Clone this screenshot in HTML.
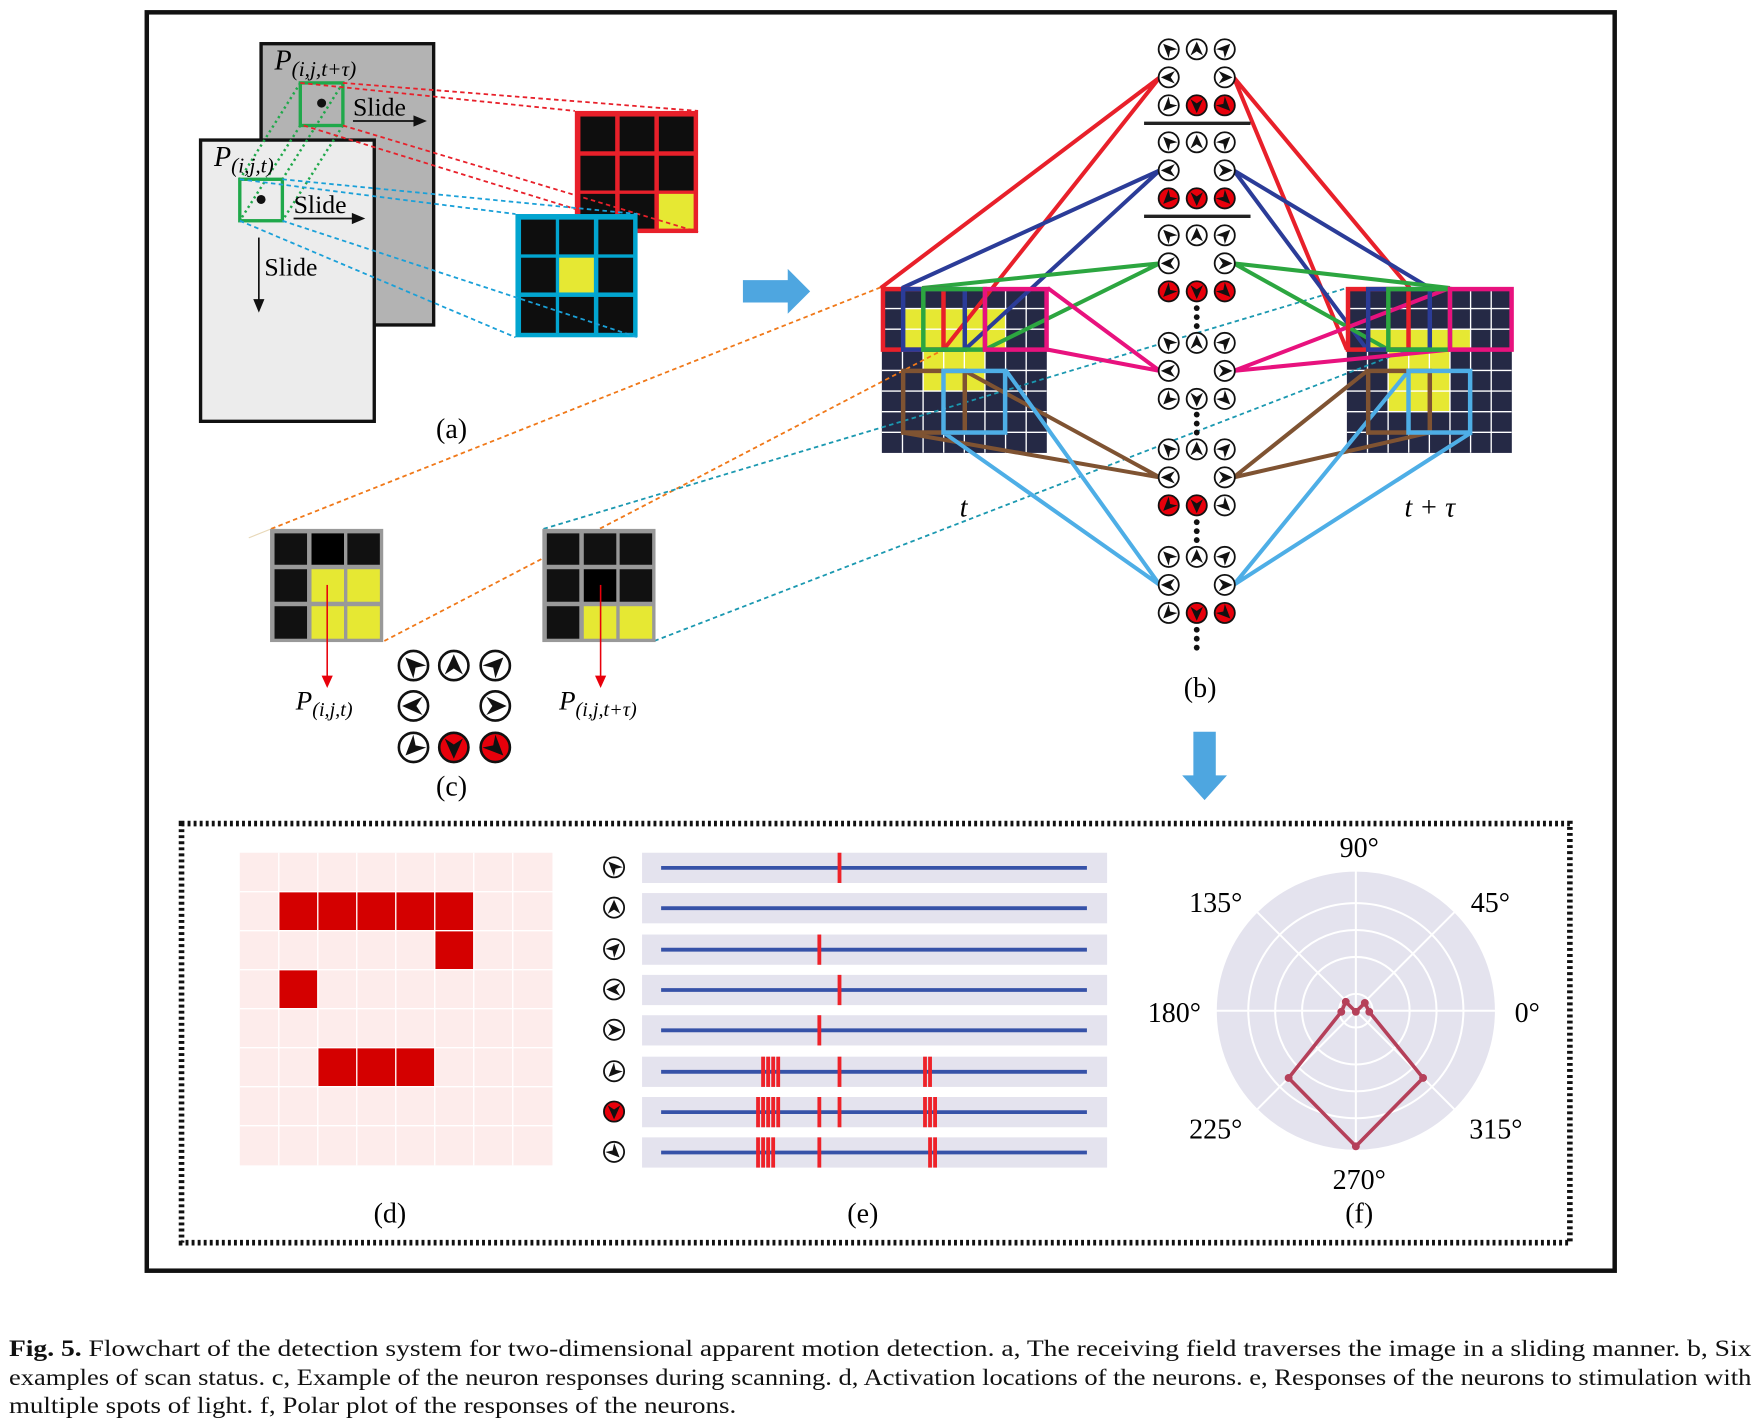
<!DOCTYPE html>
<html><head><meta charset="utf-8"><style>
html,body{margin:0;padding:0;background:#fff;}
svg{display:block;}
</style></head><body>
<svg width="1757" height="1426" viewBox="0 0 1568 1272.6" preserveAspectRatio="none" xmlns="http://www.w3.org/2000/svg" font-family="'Liberation Serif', serif">
<defs>
<path id="ar" d="M0,-7 L5.6,5.5 L0,1.8 L-5.6,5.5Z" fill="#111"/>
<g id="nUL"><circle r="9" fill="#fff" stroke="#111" stroke-width="1.6"/><use href="#ar" transform="rotate(-45)"/></g>
<g id="nU"><circle r="9" fill="#fff" stroke="#111" stroke-width="1.6"/><use href="#ar"/></g>
<g id="nUR"><circle r="9" fill="#fff" stroke="#111" stroke-width="1.6"/><use href="#ar" transform="rotate(45)"/></g>
<g id="nL"><circle r="9" fill="#fff" stroke="#111" stroke-width="1.6"/><use href="#ar" transform="rotate(-90)"/></g>
<g id="nR"><circle r="9" fill="#fff" stroke="#111" stroke-width="1.6"/><use href="#ar" transform="rotate(90)"/></g>
<g id="nDL"><circle r="9" fill="#fff" stroke="#111" stroke-width="1.6"/><use href="#ar" transform="rotate(-135)"/></g>
<g id="nD"><circle r="9" fill="#fff" stroke="#111" stroke-width="1.6"/><use href="#ar" transform="rotate(180)"/></g>
<g id="nDR"><circle r="9" fill="#fff" stroke="#111" stroke-width="1.6"/><use href="#ar" transform="rotate(135)"/></g>
<g id="rDL"><circle r="9" fill="#e8000b" stroke="#111" stroke-width="1.6"/><use href="#ar" transform="rotate(-135)"/></g>
<g id="rD"><circle r="9" fill="#e8000b" stroke="#111" stroke-width="1.6"/><use href="#ar" transform="rotate(180)"/></g>
<g id="rDR"><circle r="9" fill="#e8000b" stroke="#111" stroke-width="1.6"/><use href="#ar" transform="rotate(135)"/></g>
</defs>

<rect x="131" y="11" width="1310" height="1123" fill="none" stroke="#111" stroke-width="4"/>

<!-- Panel (a) -->
<rect x="233" y="39" width="154" height="251" fill="#b3b3b3" stroke="#111" stroke-width="3"/>
<rect x="179" y="125" width="155" height="251" fill="#ececec" stroke="#111" stroke-width="3"/>
<g stroke="#1fa84a" stroke-width="2.2" stroke-dasharray="2,3" fill="none">
<line x1="268" y1="74" x2="214" y2="160"/><line x1="306" y1="74" x2="252" y2="160"/>
<line x1="268" y1="112" x2="214" y2="197"/><line x1="306" y1="112" x2="252" y2="197"/>
</g>
<rect x="268" y="74" width="38" height="38" fill="none" stroke="#1fa84a" stroke-width="3"/>
<rect x="214" y="160" width="38" height="37" fill="none" stroke="#1fa84a" stroke-width="3"/>
<circle cx="287" cy="92" r="4" fill="#111"/>
<circle cx="233" cy="178" r="4" fill="#111"/>
<text x="245" y="62" font-size="25" font-style="italic">P<tspan font-size="19" dy="6">(i,j,t+τ)</tspan></text>
<text x="191" y="148" font-size="25" font-style="italic">P<tspan font-size="19" dy="6">(i,j,t)</tspan></text>
<text x="315" y="103" font-size="23">Slide</text>
<line x1="315" y1="108" x2="370" y2="108" stroke="#111" stroke-width="1.5"/><path d="M381,108 L369,103 L369,113Z" fill="#111"/>
<text x="262" y="190" font-size="23">Slide</text>
<line x1="262" y1="195" x2="315" y2="195" stroke="#111" stroke-width="1.5"/><path d="M326,195 L314,190 L314,200Z" fill="#111"/>
<text x="236" y="246" font-size="23">Slide</text>
<line x1="231" y1="212" x2="231" y2="268" stroke="#111" stroke-width="1.5"/><path d="M231,279 L226,267 L236,267Z" fill="#111"/>

<rect x="513" y="99" width="110" height="109" fill="#e8202a"/>
<g fill="#0e0e0e">
<rect x="518" y="104" width="31" height="31"/><rect x="553" y="104" width="31" height="31"/><rect x="588" y="104" width="31" height="31"/>
<rect x="518" y="139" width="31" height="31"/><rect x="553" y="139" width="31" height="31"/><rect x="588" y="139" width="31" height="31"/>
<rect x="518" y="173" width="31" height="31"/><rect x="553" y="173" width="31" height="31"/>
</g>
<rect x="588" y="173" width="31" height="31" fill="#e6e833"/>
<rect x="460" y="191" width="109" height="110" fill="#02a5d0"/>
<g fill="#0e0e0e">
<rect x="465" y="196" width="31" height="31"/><rect x="499" y="196" width="31" height="31"/><rect x="534" y="196" width="31" height="31"/>
<rect x="465" y="230" width="31" height="31"/><rect x="534" y="230" width="31" height="31"/>
<rect x="465" y="265" width="31" height="32"/><rect x="499" y="265" width="31" height="32"/><rect x="534" y="265" width="31" height="32"/>
</g>
<rect x="499" y="230" width="31" height="31" fill="#e6e833"/>
<g stroke="#e8202a" stroke-width="1.6" stroke-dasharray="4,3" fill="none">
<line x1="268" y1="74" x2="513" y2="99"/><line x1="306" y1="74" x2="623" y2="99"/>
<line x1="271" y1="112" x2="515" y2="187"/><line x1="306" y1="112" x2="623" y2="207"/>
</g>
<g stroke="#1aa0d8" stroke-width="1.6" stroke-dasharray="4,3" fill="none">
<line x1="214" y1="160" x2="460" y2="191"/><line x1="252" y1="160" x2="569" y2="191"/>
<line x1="214" y1="197" x2="460" y2="301"/><line x1="252" y1="197" x2="569" y2="301"/>
</g>
<text x="403" y="391" font-size="25" text-anchor="middle">(a)</text>

<path d="M663,250 L703,250 L703,240 L723,260 L703,280 L703,270 L663,270Z" fill="#4ea6e0"/>
<path d="M1065,653 L1085,653 L1085,692 L1095,692 L1075,714 L1055,692 L1065,692Z" fill="#4ea6e0"/>

<!-- Panel (b) grids -->
<g>
<rect x="787" y="257" width="147.2" height="147.2" fill="#252945"/>
<g fill="#e6e833">
<rect x="805.4" y="275.4" width="92" height="36.8"/>
<rect x="823.8" y="312.2" width="55.2" height="36.8"/>
</g>
<g stroke="#fff" stroke-width="1.2">
<line x1="805.4" y1="257" x2="805.4" y2="404"/><line x1="823.8" y1="257" x2="823.8" y2="404"/><line x1="842.2" y1="257" x2="842.2" y2="404"/><line x1="860.6" y1="257" x2="860.6" y2="404"/><line x1="879" y1="257" x2="879" y2="404"/><line x1="897.4" y1="257" x2="897.4" y2="404"/><line x1="915.8" y1="257" x2="915.8" y2="404"/>
<line x1="787" y1="275.4" x2="934" y2="275.4"/><line x1="787" y1="293.8" x2="934" y2="293.8"/><line x1="787" y1="312.2" x2="934" y2="312.2"/><line x1="787" y1="330.6" x2="934" y2="330.6"/><line x1="787" y1="349" x2="934" y2="349"/><line x1="787" y1="367.4" x2="934" y2="367.4"/><line x1="787" y1="385.8" x2="934" y2="385.8"/>
</g>
</g>
<g>
<rect x="1202" y="257" width="147.2" height="147.2" fill="#252945"/>
<g fill="#e6e833">
<rect x="1220.4" y="293.8" width="92" height="18.4"/>
<rect x="1238.8" y="312.2" width="55.2" height="55.2"/>
</g>
<g stroke="#fff" stroke-width="1.2">
<line x1="1220.4" y1="257" x2="1220.4" y2="404"/><line x1="1238.8" y1="257" x2="1238.8" y2="404"/><line x1="1257.2" y1="257" x2="1257.2" y2="404"/><line x1="1275.6" y1="257" x2="1275.6" y2="404"/><line x1="1294" y1="257" x2="1294" y2="404"/><line x1="1312.4" y1="257" x2="1312.4" y2="404"/><line x1="1330.8" y1="257" x2="1330.8" y2="404"/>
<line x1="1202" y1="275.4" x2="1349" y2="275.4"/><line x1="1202" y1="293.8" x2="1349" y2="293.8"/><line x1="1202" y1="312.2" x2="1349" y2="312.2"/><line x1="1202" y1="330.6" x2="1349" y2="330.6"/><line x1="1202" y1="349" x2="1349" y2="349"/><line x1="1202" y1="367.4" x2="1349" y2="367.4"/><line x1="1202" y1="385.8" x2="1349" y2="385.8"/>
</g>
</g>

<g stroke-width="1.6" stroke-dasharray="4,3" fill="none">
<line x1="242" y1="472" x2="787" y2="256" stroke="#f07818"/>
<line x1="343" y1="572" x2="842" y2="312" stroke="#f07818"/>
<line x1="485" y1="472" x2="1202" y2="257" stroke="#1a98b0"/>
<line x1="584" y1="572" x2="1257" y2="312" stroke="#1a98b0"/>
</g>
<line x1="222" y1="480" x2="242" y2="472" stroke="#e8d8b8" stroke-width="1"/>

<g stroke-width="3.6" fill="none">
<path d="M786,257 L1035,69 L842,312" stroke="#e8202a"/>
<path d="M1258,257 L1101,69 L1202,312" stroke="#e8202a"/>
<path d="M805,257 L1035,152 L861,312" stroke="#2b3c98"/>
<path d="M1276,257 L1101,152 L1220,312" stroke="#2b3c98"/>
<path d="M823,257 L1035,235 L879,312" stroke="#2ca640"/>
<path d="M1294,257 L1101,235 L1239,312" stroke="#2ca640"/>
<path d="M935,257 L1035,331 L935,312" stroke="#e8127e"/>
<path d="M1294,257 L1101,331 L1294,312" stroke="#e8127e"/>
<path d="M861,331 L1035,426 L805,386" stroke="#7f5332"/>
<path d="M1220,331 L1101,426 L1276,386" stroke="#7f5332"/>
<path d="M898,331 L1035,522 L842,386" stroke="#4eaee6"/>
<path d="M1257,331 L1101,522 L1313,386" stroke="#4eaee6"/>
</g>
<g fill="none" stroke-width="4">
<rect x="788" y="258" width="54" height="54" stroke="#e8202a"/>
<rect x="806" y="258" width="55" height="54" stroke="#2b3c98"/>
<rect x="824" y="258" width="55" height="54" stroke="#2ca640"/>
<rect x="879" y="258" width="55" height="54" stroke="#e8127e"/>
<rect x="806" y="331" width="55" height="55" stroke="#7f5332"/>
<rect x="842" y="331" width="55" height="55" stroke="#4eaee6"/>
<rect x="1203" y="258" width="54" height="54" stroke="#e8202a"/>
<rect x="1221" y="258" width="55" height="54" stroke="#2b3c98"/>
<rect x="1239" y="258" width="55" height="54" stroke="#2ca640"/>
<rect x="1294" y="258" width="55" height="54" stroke="#e8127e"/>
<rect x="1221" y="331" width="55" height="55" stroke="#7f5332"/>
<rect x="1257" y="331" width="55" height="55" stroke="#4eaee6"/>
</g>

<line x1="1021" y1="110" x2="1116" y2="110" stroke="#222" stroke-width="3"/>
<line x1="1021" y1="193" x2="1116" y2="193" stroke="#222" stroke-width="3"/>
<g fill="#111">
<circle cx="1068" cy="275" r="2.6"/><circle cx="1068" cy="283" r="2.6"/><circle cx="1068" cy="291" r="2.6"/>
<circle cx="1068" cy="370" r="2.6"/><circle cx="1068" cy="378" r="2.6"/><circle cx="1068" cy="386" r="2.6"/>
<circle cx="1068" cy="466" r="2.6"/><circle cx="1068" cy="474" r="2.6"/><circle cx="1068" cy="482" r="2.6"/>
<circle cx="1068" cy="562" r="2.6"/><circle cx="1068" cy="570" r="2.6"/><circle cx="1068" cy="578" r="2.6"/>
</g>
<use href="#nUL" x="1043" y="44"/><use href="#nU" x="1068" y="44"/><use href="#nUR" x="1093" y="44"/>
<use href="#nL" x="1043" y="69"/><use href="#nR" x="1093" y="69"/>
<use href="#nDL" x="1043" y="94"/><use href="#rD" x="1068" y="94"/><use href="#rDR" x="1093" y="94"/>
<use href="#nUL" x="1043" y="127"/><use href="#nU" x="1068" y="127"/><use href="#nUR" x="1093" y="127"/>
<use href="#nL" x="1043" y="152"/><use href="#nR" x="1093" y="152"/>
<use href="#rDL" x="1043" y="177"/><use href="#rD" x="1068" y="177"/><use href="#rDR" x="1093" y="177"/>
<use href="#nUL" x="1043" y="210"/><use href="#nU" x="1068" y="210"/><use href="#nUR" x="1093" y="210"/>
<use href="#nL" x="1043" y="235"/><use href="#nR" x="1093" y="235"/>
<use href="#rDL" x="1043" y="260"/><use href="#rD" x="1068" y="260"/><use href="#rDR" x="1093" y="260"/>
<use href="#nUL" x="1043" y="306"/><use href="#nU" x="1068" y="306"/><use href="#nUR" x="1093" y="306"/>
<use href="#nL" x="1043" y="331"/><use href="#nR" x="1093" y="331"/>
<use href="#nDL" x="1043" y="356"/><use href="#nD" x="1068" y="356"/><use href="#nDR" x="1093" y="356"/>
<use href="#nUL" x="1043" y="401"/><use href="#nU" x="1068" y="401"/><use href="#nUR" x="1093" y="401"/>
<use href="#nL" x="1043" y="426"/><use href="#nR" x="1093" y="426"/>
<use href="#rDL" x="1043" y="451"/><use href="#rD" x="1068" y="451"/><use href="#nDR" x="1093" y="451"/>
<use href="#nUL" x="1043" y="497"/><use href="#nU" x="1068" y="497"/><use href="#nUR" x="1093" y="497"/>
<use href="#nL" x="1043" y="522"/><use href="#nR" x="1093" y="522"/>
<use href="#nDL" x="1043" y="547"/><use href="#rD" x="1068" y="547"/><use href="#rDR" x="1093" y="547"/>

<text x="860" y="461" font-size="25" font-style="italic" text-anchor="middle">t</text>
<text x="1276" y="461" font-size="25" font-style="italic" text-anchor="middle">t + τ</text>
<text x="1071" y="622" font-size="25" text-anchor="middle">(b)</text>

<!-- Panel (c) -->
<rect x="241" y="472" width="101" height="101" fill="#999"/>
<g fill="#111">
<rect x="245" y="476" width="29" height="28"/><rect x="278" y="476" width="29" height="28" fill="#000"/><rect x="310" y="476" width="29" height="28"/>
<rect x="245" y="508" width="29" height="29"/><rect x="245" y="541" width="29" height="29"/>
</g>
<g fill="#e6e833">
<rect x="278" y="508" width="29" height="29"/><rect x="310" y="508" width="29" height="29"/>
<rect x="278" y="541" width="29" height="29"/><rect x="310" y="541" width="29" height="29"/>
</g>
<rect x="484" y="472" width="101" height="101" fill="#999"/>
<g fill="#111">
<rect x="488" y="476" width="29" height="28"/><rect x="521" y="476" width="29" height="28"/><rect x="553" y="476" width="29" height="28"/>
<rect x="488" y="508" width="29" height="29"/><rect x="521" y="508" width="29" height="29" fill="#000"/><rect x="553" y="508" width="29" height="29"/>
<rect x="488" y="541" width="29" height="29"/>
</g>
<g fill="#e6e833"><rect x="521" y="541" width="29" height="29"/><rect x="553" y="541" width="29" height="29"/></g>
<line x1="292" y1="522" x2="292" y2="604" stroke="#e8000b" stroke-width="1.4"/><path d="M292,614 L287,603 L297,603Z" fill="#e8000b"/>
<line x1="536" y1="522" x2="536" y2="604" stroke="#e8000b" stroke-width="1.4"/><path d="M536,614 L531,603 L541,603Z" fill="#e8000b"/>
<text x="264" y="633" font-size="24" font-style="italic">P<tspan font-size="18" dy="6">(i,j,t)</tspan></text>
<text x="499" y="633" font-size="24" font-style="italic">P<tspan font-size="18" dy="6">(i,j,t+τ)</tspan></text>
<g transform="translate(369,594) scale(1.45)"><use href="#nUL"/></g>
<g transform="translate(405,594) scale(1.45)"><use href="#nU"/></g>
<g transform="translate(442,594) scale(1.45)"><use href="#nUR"/></g>
<g transform="translate(369,630) scale(1.45)"><use href="#nL"/></g>
<g transform="translate(442,630) scale(1.45)"><use href="#nR"/></g>
<g transform="translate(369,667) scale(1.45)"><use href="#nDL"/></g>
<g transform="translate(405,667) scale(1.45)"><use href="#rD"/></g>
<g transform="translate(442,667) scale(1.45)"><use href="#rDR"/></g>
<text x="403" y="710" font-size="25" text-anchor="middle">(c)</text>

<rect x="162" y="735" width="1239" height="374" fill="none" stroke="#111" stroke-width="5" stroke-dasharray="2.6,2.8"/>

<!-- Panel (d) -->
<rect x="214" y="761" width="279" height="279" fill="#fdeceb"/>
<g fill="#d40000">
<rect x="248.8" y="795.8" width="174" height="34.8"/>
<rect x="388" y="830.6" width="34.8" height="34.8"/>
<rect x="248.8" y="865.4" width="34.8" height="34.8"/>
<rect x="283.6" y="935" width="104.4" height="34.8"/>
</g>
<g stroke="#fff" stroke-width="1.2">
<line x1="248.8" y1="761" x2="248.8" y2="1040"/><line x1="283.6" y1="761" x2="283.6" y2="1040"/><line x1="318.4" y1="761" x2="318.4" y2="1040"/><line x1="353.2" y1="761" x2="353.2" y2="1040"/><line x1="388" y1="761" x2="388" y2="1040"/><line x1="422.8" y1="761" x2="422.8" y2="1040"/><line x1="457.6" y1="761" x2="457.6" y2="1040"/>
<line x1="214" y1="795.8" x2="493" y2="795.8"/><line x1="214" y1="830.6" x2="493" y2="830.6"/><line x1="214" y1="865.4" x2="493" y2="865.4"/><line x1="214" y1="900.2" x2="493" y2="900.2"/><line x1="214" y1="935" x2="493" y2="935"/><line x1="214" y1="969.8" x2="493" y2="969.8"/><line x1="214" y1="1004.6" x2="493" y2="1004.6"/>
</g>
<text x="348" y="1091" font-size="25" text-anchor="middle">(d)</text>

<!-- Panel (e) -->
<g fill="#e4e3ee">
<rect x="573" y="761" width="415" height="27"/><rect x="573" y="797" width="415" height="27"/><rect x="573" y="834" width="415" height="27"/><rect x="573" y="870" width="415" height="27"/>
<rect x="573" y="906" width="415" height="27"/><rect x="573" y="943" width="415" height="27"/><rect x="573" y="979" width="415" height="27"/><rect x="573" y="1015" width="415" height="27"/>
</g>
<g stroke="#3652a8" stroke-width="3.4">
<line x1="590" y1="774.5" x2="970" y2="774.5"/><line x1="590" y1="810.5" x2="970" y2="810.5"/><line x1="590" y1="847.5" x2="970" y2="847.5"/><line x1="590" y1="883.5" x2="970" y2="883.5"/>
<line x1="590" y1="919.5" x2="970" y2="919.5"/><line x1="590" y1="956.5" x2="970" y2="956.5"/><line x1="590" y1="992.5" x2="970" y2="992.5"/><line x1="590" y1="1028.5" x2="970" y2="1028.5"/>
</g>
<g fill="#ee2229">
<rect x="747.5" y="761" width="3.4" height="27"/>
<rect x="729.5" y="834" width="3.4" height="27"/>
<rect x="747.5" y="870" width="3.4" height="27"/>
<rect x="729.5" y="906" width="3.4" height="27"/>
<rect x="679.3" y="943" width="3.4" height="27"/><rect x="683.8" y="943" width="3.4" height="27"/><rect x="688.3" y="943" width="3.4" height="27"/><rect x="692.8" y="943" width="3.4" height="27"/>
<rect x="747.5" y="943" width="3.4" height="27"/><rect x="823.8" y="943" width="3.4" height="27"/><rect x="828.3" y="943" width="3.4" height="27"/>
<rect x="674.8" y="979" width="3.4" height="27"/><rect x="679.3" y="979" width="3.4" height="27"/><rect x="683.8" y="979" width="3.4" height="27"/><rect x="688.3" y="979" width="3.4" height="27"/><rect x="692.8" y="979" width="3.4" height="27"/>
<rect x="729.5" y="979" width="3.4" height="27"/><rect x="747.5" y="979" width="3.4" height="27"/>
<rect x="823.8" y="979" width="3.4" height="27"/><rect x="828.3" y="979" width="3.4" height="27"/><rect x="832.8" y="979" width="3.4" height="27"/>
<rect x="674.8" y="1015" width="3.4" height="27"/><rect x="679.3" y="1015" width="3.4" height="27"/><rect x="683.8" y="1015" width="3.4" height="27"/><rect x="688.3" y="1015" width="3.4" height="27"/>
<rect x="729.5" y="1015" width="3.4" height="27"/>
<rect x="828.3" y="1015" width="3.4" height="27"/><rect x="832.8" y="1015" width="3.4" height="27"/>
</g>
<use href="#nUL" x="548" y="774"/><use href="#nU" x="548" y="810"/><use href="#nUR" x="548" y="847"/><use href="#nL" x="548" y="883"/>
<use href="#nR" x="548" y="919"/><use href="#nDL" x="548" y="956"/><use href="#rD" x="548" y="992"/><use href="#nDR" x="548" y="1028"/>
<text x="770" y="1091" font-size="25" text-anchor="middle">(e)</text>

<!-- Panel (f) -->
<circle cx="1210" cy="902" r="125" fill="#e4e3ee"/>
<g fill="none" stroke="#fff" stroke-width="1.8">
<circle cx="1210" cy="902" r="15"/><circle cx="1210" cy="902" r="48"/><circle cx="1210" cy="902" r="72"/><circle cx="1210" cy="902" r="96"/><circle cx="1210" cy="902" r="125"/>
<line x1="1085" y1="902" x2="1335" y2="902"/><line x1="1210" y1="777" x2="1210" y2="1027"/>
<line x1="1121.6" y1="813.6" x2="1298.4" y2="990.4"/><line x1="1298.4" y1="813.6" x2="1121.6" y2="990.4"/>
</g>
<polygon points="1222,903 1218,895 1210,903 1201,894 1197,903 1150,962 1210,1023 1270,962" fill="none" stroke="#b5405a" stroke-width="3.2" stroke-linejoin="round"/>
<g fill="#b5405a">
<circle cx="1222" cy="903" r="3.5"/><circle cx="1218" cy="895" r="3.5"/><circle cx="1210" cy="903" r="3.5"/><circle cx="1201" cy="894" r="3.5"/><circle cx="1197" cy="903" r="3.5"/><circle cx="1150" cy="962" r="3.5"/><circle cx="1210" cy="1023" r="3.5"/><circle cx="1270" cy="962" r="3.5"/>
</g>
<g font-size="25" text-anchor="middle">
<text x="1213" y="765">90°</text>
<text x="1330" y="814">45°</text>
<text x="1085" y="814">135°</text>
<text x="1048" y="912">180°</text>
<text x="1363" y="912">0°</text>
<text x="1085" y="1016">225°</text>
<text x="1335" y="1016">315°</text>
<text x="1213" y="1061">270°</text>
<text x="1213" y="1091">(f)</text>
</g>

<!-- caption -->
<g font-size="21" fill="#111">
<text x="8" y="1210" textLength="1555" lengthAdjust="spacingAndGlyphs"><tspan font-weight="bold">Fig. 5.</tspan> Flowchart of the detection system for two-dimensional apparent motion detection. a, The receiving field traverses the image in a sliding manner. b, Six</text>
<text x="8" y="1236" textLength="1555" lengthAdjust="spacingAndGlyphs">examples of scan status. c, Example of the neuron responses during scanning. d, Activation locations of the neurons. e, Responses of the neurons to stimulation with</text>
<text x="8" y="1261" textLength="649" lengthAdjust="spacingAndGlyphs">multiple spots of light. f, Polar plot of the responses of the neurons.</text>
</g>
</svg>
</body></html>
